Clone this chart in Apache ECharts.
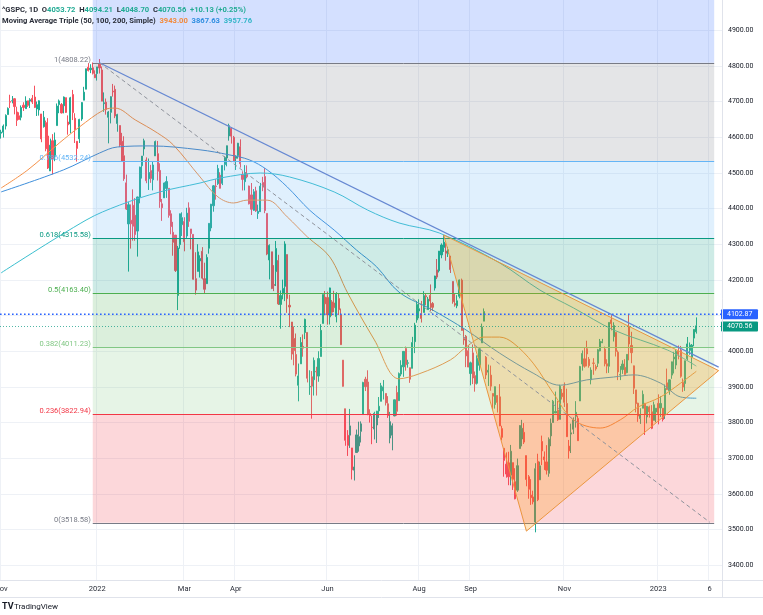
<!DOCTYPE html>
<html><head><meta charset="utf-8">
<script src="https://cdn.jsdelivr.net/npm/echarts@6/dist/echarts.min.js"></script>
<style>html,body{margin:0;padding:0;background:#fff}#c{width:763px;height:615px}</style>
</head><body><div id="c"></div>
<script>
// ---------------- DATA ----------------
const holidays = ['2021-11-25','2021-12-24','2022-01-17','2022-02-21','2022-04-15','2022-05-30','2022-06-20','2022-07-04','2022-09-05','2022-11-24','2022-12-26','2023-01-02','2023-01-16'];
const firstDay = '2021-11-01', lastDay = '2023-02-13'; // includes empty future slots after 2023-01-27

// [open, close, low, high]
const nov21 = [
[4610.6,4613.67,4595.5,4620.3],[4613.3,4630.65,4598.5,4635.2],[4630.7,4660.57,4621.0,4663.5],[4662.9,4680.06,4662.9,4683.0],
[4699.3,4697.53,4681.1,4718.5],[4701.5,4701.70,4694.4,4714.9],[4707.3,4685.25,4663.5,4708.5],[4670.3,4646.71,4630.9,4684.9],
[4659.4,4649.27,4648.3,4669.3],[4655.2,4682.85,4646.7,4688.5],[4689.3,4682.80,4672.9,4697.4],[4679.4,4700.90,4679.4,4714.1],
[4701.5,4688.67,4684.4,4701.5],[4700.7,4704.54,4681.2,4708.8],[4708.4,4697.96,4692.6,4717.8],[4712.0,4682.94,4681.1,4743.8],
[4678.5,4690.70,4658.9,4699.4],[4675.8,4701.46,4659.9,4702.9],[4664.6,4594.62,4585.4,4664.6],[4628.8,4655.27,4626.3,4672.9],
[4640.3,4567.00,4560.0,4646.0]];
const dec21 = [
[4602.8,4513.04,4510.3,4652.9],[4504.7,4577.10,4504.7,4595.5],[4589.5,4538.43,4495.1,4608.0],[4548.4,4591.67,4532.1,4612.6],
[4632.0,4686.75,4632.0,4694.0],[4690.9,4701.21,4666.7,4705.1],[4691.0,4667.45,4666.0,4695.3],[4687.6,4712.02,4666.2,4713.6],
[4710.3,4668.97,4667.6,4710.3],[4642.0,4634.09,4606.5,4660.5],[4636.5,4709.85,4611.0,4712.6],[4719.1,4668.67,4647.5,4732.0],
[4652.5,4620.64,4583.2,4666.7],[4587.9,4568.02,4531.1,4587.9],[4595.0,4649.23,4583.2,4651.1],[4650.4,4696.56,4645.4,4697.7],
[4703.1,4725.79,4703.1,4740.7],[4734.0,4791.19,4734.0,4791.5],[4795.5,4786.35,4783.7,4807.0],[4788.6,4793.06,4779.0,4804.1],
[4794.2,4778.73,4775.3,4808.9],[4775.2,4766.18,4765.3,4786.8]];
const jan22 = [
[4778.1,4796.56,4758.2,4796.6],[4804.5,4793.54,4778.0,4818.6],[4788.0,4700.58,4700.5,4797.7],[4693.4,4696.05,4670.7,4725.0],
[4697.7,4677.03,4662.7,4707.9],[4655.3,4670.29,4582.2,4673.0],[4669.1,4713.07,4638.1,4714.1],[4728.6,4726.35,4713.2,4748.8],
[4733.6,4659.03,4652.9,4744.1],[4638.0,4662.85,4614.8,4665.1],[4632.2,4577.11,4571.8,4632.2],[4588.0,4532.76,4531.1,4611.6],
[4547.4,4482.73,4477.0,4602.1],[4471.4,4397.94,4395.3,4494.5],[4356.3,4410.13,4222.6,4417.4],[4366.6,4356.45,4287.1,4411.0],
[4408.4,4349.93,4309.5,4453.2],[4380.6,4326.51,4309.0,4428.7],[4336.2,4431.85,4264.7,4432.7],[4431.8,4515.55,4414.0,4516.9]];
const feb22 = [
[4519.6,4546.54,4483.5,4546.5],[4566.4,4589.38,4547.6,4595.3],[4535.4,4477.44,4470.4,4542.9],[4482.8,4500.53,4451.5,4539.7],
[4505.8,4483.87,4471.5,4521.9],[4480.0,4521.54,4450.3,4531.3],[4547.0,4587.18,4547.0,4590.0],[4553.2,4504.08,4477.9,4588.9],
[4506.3,4418.64,4401.4,4526.3],[4412.6,4401.67,4364.8,4426.2],[4429.3,4471.07,4429.3,4472.8],[4455.8,4475.01,4429.3,4490.0],
[4456.1,4380.26,4373.8,4456.1],[4384.6,4348.87,4327.2,4394.6],[4332.7,4304.76,4267.1,4362.1],[4324.9,4225.50,4221.5,4324.9],
[4155.8,4288.70,4114.7,4294.7],[4298.4,4384.65,4286.8,4385.3],[4354.2,4373.94,4322.5,4388.8]];
const mar22 = [
[4363.1,4306.26,4279.5,4375.0],[4322.6,4386.54,4317.0,4401.5],[4401.3,4363.49,4347.9,4416.8],[4342.1,4328.87,4285.0,4342.1],
[4327.0,4201.09,4199.9,4327.0],[4202.7,4170.70,4157.9,4276.9],[4223.1,4277.88,4223.1,4299.4],[4252.6,4259.52,4206.0,4268.3],
[4279.5,4204.31,4200.6,4291.2],[4202.8,4173.11,4161.7,4247.6],[4188.8,4262.45,4187.9,4271.1],[4288.1,4357.86,4272.9,4358.0],
[4345.1,4411.67,4335.7,4412.5],[4407.3,4463.12,4390.6,4465.4],[4462.4,4461.18,4424.3,4481.8],[4469.1,4511.61,4465.6,4522.0],
[4493.1,4456.24,4455.8,4501.1],[4470.0,4520.16,4465.2,4520.6],[4522.7,4543.06,4506.3,4546.0],[4541.1,4575.52,4517.7,4575.7],
[4602.9,4631.60,4589.7,4637.3],[4624.2,4602.45,4581.5,4627.8],[4599.0,4530.41,4530.3,4603.1]];
const apr22 = [
[4540.3,4545.86,4507.6,4548.7],[4548.0,4582.64,4539.2,4583.5],[4572.5,4525.12,4514.2,4593.5],[4494.2,4481.15,4450.0,4503.9],
[4474.7,4500.21,4450.3,4521.2],[4494.2,4488.28,4484.2,4520.4],[4462.6,4412.53,4411.0,4463.6],[4437.6,4397.45,4381.3,4471.0],
[4394.3,4446.59,4392.7,4453.9],[4449.1,4392.59,4390.0,4460.5],[4385.6,4391.69,4370.3,4410.3],[4390.6,4462.21,4390.6,4471.3],
[4472.3,4459.45,4448.1,4488.3],[4489.2,4393.66,4386.4,4512.9],[4385.8,4271.78,4268.6,4385.8],[4255.3,4296.12,4200.8,4299.0],
[4278.1,4175.20,4173.4,4278.1],[4186.5,4183.96,4167.9,4240.7],[4222.6,4287.50,4182.1,4308.5],[4253.8,4131.93,4129.0,4269.7]];
const may22 = [
[4130.6,4155.38,4062.5,4169.8],[4159.8,4175.48,4144.9,4200.1],[4181.2,4300.17,4139.9,4307.7],[4270.4,4146.87,4107.0,4270.4],
[4128.2,4123.34,4067.0,4157.7],[4081.3,3991.24,3975.5,4081.3],[4035.2,4001.05,3959.9,4068.8],[3990.1,3935.18,3928.8,4049.1],
[3904.0,3930.08,3858.9,3964.8],[3963.9,4023.89,3963.9,4038.9],[4013.0,4008.01,3984.0,4046.5],[4052.0,4088.85,4033.4,4090.7],
[4052.0,3923.68,3911.9,4052.0],[3899.0,3900.79,3877.0,3946.0],[3927.8,3901.36,3810.3,3943.7],[3919.4,3973.75,3875.1,3981.9],
[3942.9,3941.48,3875.1,3955.7],[3929.6,3978.73,3913.7,3999.3],[3984.6,4057.84,3984.6,4075.1],[4077.4,4158.24,4077.4,4158.5],
[4151.1,4132.15,4100.0,4168.3]];
const jun22 = [
[4149.8,4101.23,4073.9,4166.5],[4095.4,4176.82,4074.3,4177.5],[4137.6,4108.54,4098.7,4142.7],[4134.7,4121.43,4109.0,4168.8],
[4096.5,4160.68,4080.2,4164.9],[4147.1,4115.77,4101.0,4160.1],[4101.7,4017.82,4017.4,4119.1],[3974.4,3900.86,3900.2,3974.4],
[3838.1,3749.63,3734.3,3838.1],[3763.5,3735.48,3705.7,3778.2],[3764.1,3789.99,3728.2,3837.6],[3728.2,3666.77,3639.8,3728.2],
[3665.9,3674.84,3636.9,3707.7],[3715.3,3764.79,3715.3,3779.7],[3733.9,3759.89,3717.7,3801.8],[3774.7,3795.73,3743.5,3802.6],
[3821.8,3911.74,3821.8,3913.7],[3920.8,3900.11,3887.7,3927.7],[3913.0,3821.55,3820.1,3945.9],[3825.1,3818.83,3799.2,3836.5],
[3786.0,3785.38,3738.7,3819.0]];
const jul22 = [
[3781.0,3825.33,3752.1,3829.8],[3792.6,3831.39,3742.1,3832.2],[3832.0,3845.08,3812.3,3870.9],[3858.9,3902.62,3858.9,3910.6],
[3888.3,3899.38,3864.1,3918.5],[3880.9,3854.43,3847.2,3880.9],[3852.0,3818.80,3812.4,3873.4],[3756.0,3801.78,3741.2,3829.4],
[3764.0,3790.38,3721.6,3797.0],[3818.0,3863.16,3817.2,3863.6],[3883.8,3830.85,3818.6,3902.4],[3860.7,3936.69,3860.7,3939.8],
[3935.3,3959.90,3929.2,3974.1],[3955.5,3998.95,3927.6,3999.3],[4007.0,3961.63,3944.8,4012.4],[3965.7,3966.84,3953.2,3975.3],
[3953.2,3921.05,3910.7,3953.2],[3951.4,4023.61,3951.4,4039.6],[4026.1,4072.43,3994.0,4079.0],[4087.3,4130.29,4079.2,4140.2]];
const aug22 = [
[4112.4,4118.63,4091.7,4145.0],[4104.2,4091.19,4079.8,4140.5],[4108.0,4155.17,4108.0,4167.7],[4154.9,4151.94,4128.4,4161.3],
[4115.9,4145.19,4115.9,4151.6],[4155.9,4140.06,4112.1,4186.6],[4133.1,4122.47,4112.1,4137.3],[4176.5,4210.24,4169.4,4211.0],
[4227.4,4207.27,4201.6,4257.9],[4225.0,4280.15,4220.2,4280.5],[4269.4,4297.14,4260.1,4301.8],[4290.5,4305.20,4277.9,4325.3],
[4280.4,4274.04,4253.1,4302.2],[4273.1,4283.74,4263.6,4292.1],[4266.3,4228.48,4218.7,4266.3],[4195.1,4137.99,4132.6,4195.1],
[4133.1,4128.73,4124.3,4159.8],[4126.6,4140.77,4120.0,4156.6],[4153.3,4199.12,4147.6,4200.5],[4198.7,4057.66,4057.7,4203.0],
[4034.6,4030.61,4017.4,4063.0],[4041.3,3986.16,3954.7,4045.0],[4000.7,3955.00,3954.5,4015.4]];
const sep22 = [
[3936.7,3966.85,3903.7,3970.2],[3994.7,3924.26,3907.1,4018.4],[3930.9,3908.19,3886.0,3942.6],[3909.4,3979.87,3906.0,3987.9],
[3959.9,4006.18,3944.8,4010.5],[4022.9,4067.36,4022.9,4076.8],[4083.7,4110.41,4083.7,4119.3],[3982.6,3932.69,3921.3,3985.9],
[3940.7,3946.01,3901.9,3961.9],[3932.4,3901.35,3888.6,3959.1],[3880.9,3873.33,3837.1,3880.9],[3849.9,3899.89,3838.5,3900.4],
[3875.2,3855.93,3827.5,3876.0],[3871.4,3789.93,3789.5,3907.1],[3782.4,3757.99,3749.5,3790.4],[3727.1,3693.23,3647.5,3727.1],
[3682.7,3655.04,3644.8,3715.7],[3686.4,3647.29,3623.7,3717.5],[3651.9,3719.04,3623.3,3736.7],[3687.0,3640.47,3610.4,3687.0],
[3633.5,3585.62,3584.1,3671.4]];
const oct22 = [
[3609.8,3678.43,3604.9,3698.4],[3726.5,3790.93,3726.5,3791.9],[3753.3,3783.28,3732.7,3806.9],[3772.0,3744.52,3739.2,3797.9],
[3706.7,3639.66,3620.7,3706.7],[3647.5,3612.39,3585.8,3652.2],[3595.9,3588.84,3568.5,3640.7],[3590.8,3577.03,3570.1,3608.3],
[3520.4,3669.91,3491.6,3685.4],[3690.4,3583.07,3579.1,3712.0],[3638.7,3677.95,3638.7,3689.7],[3746.3,3719.98,3680.2,3762.8],
[3703.1,3695.16,3666.6,3718.4],[3689.1,3665.78,3653.7,3736.0],[3657.1,3752.75,3647.4,3757.9],[3762.0,3797.34,3733.1,3810.7],
[3799.4,3859.11,3799.4,3862.8],[3826.0,3830.60,3826.0,3886.2],[3834.7,3807.30,3803.9,3860.0],[3808.3,3901.06,3808.3,3905.4],
[3881.9,3871.98,3863.9,3893.7]];
const nov22 = [
[3901.8,3856.10,3843.1,3911.8],[3852.9,3759.69,3759.0,3894.4],[3733.3,3719.89,3698.2,3750.6],[3767.0,3770.55,3713.9,3796.3],
[3780.7,3806.80,3767.4,3813.9],[3817.0,3828.11,3785.3,3859.4],[3810.9,3748.57,3748.3,3818.9],[3859.9,3956.37,3859.9,3958.3],
[3963.7,3992.93,3944.9,4001.5],[3978.0,3957.25,3953.2,4009.0],[4006.4,3991.73,3956.9,4028.8],[3976.8,3958.79,3953.2,3983.1],
[3919.3,3946.56,3906.5,3954.3],[3966.4,3965.34,3933.3,3979.9],[3956.2,3949.94,3944.9,3962.0],[3965.5,4003.58,3955.0,4005.9],
[4000.3,4027.26,3999.0,4033.8],[4023.3,4026.12,4022.1,4034.0],[4005.4,3963.94,3956.9,4012.3],[3964.2,3957.63,3937.7,3976.8],
[3957.2,4080.11,3938.6,4080.1]];
const dec22 = [
[4087.1,4076.57,4057.8,4100.5],[4040.2,4071.70,4026.6,4080.5],[4052.0,3998.84,3984.5,4052.5],[3996.6,3941.26,3918.4,4001.5],
[3933.3,3933.92,3918.4,3957.6],[3947.8,3963.51,3935.9,3974.2],[3954.2,3934.38,3933.5,3977.0],[3939.3,3990.56,3937.7,3990.7],
[4069.4,4019.65,3973.9,4101.0],[4015.5,3995.32,3965.7,4053.8],[3958.4,3895.75,3879.5,3959.0],[3890.9,3852.36,3827.9,3890.9],
[3853.8,3817.66,3801.4,3854.9],[3810.5,3821.62,3795.6,3839.5],[3839.5,3878.44,3839.5,3889.3],[3853.6,3822.39,3764.5,3853.6],
[3815.1,3844.82,3797.0,3845.8],[3843.3,3829.25,3813.2,3846.7],[3829.6,3783.22,3780.8,3848.3],[3805.5,3849.28,3805.5,3858.2],
[3829.1,3839.50,3800.3,3839.9]];
const jan23 = [
[3853.3,3824.14,3794.3,3878.5],[3840.4,3852.97,3815.3,3873.2],[3839.7,3808.10,3802.4,3839.7],[3823.4,3895.08,3809.6,3906.2],
[3910.8,3892.09,3890.4,3950.6],[3888.6,3919.25,3877.3,3919.8],[3932.4,3969.61,3922.0,3970.1],[3977.6,3983.17,3937.0,3997.8],
[3960.6,3999.09,3949.1,4004.0],[3999.3,3990.97,3976.6,4015.4],[4002.3,3928.86,3925.0,4014.2],[3911.8,3898.85,3885.5,3922.9],
[3909.0,3972.61,3888.2,3973.0],[3978.1,4019.81,3973.8,4039.3],[4001.7,4016.95,3989.5,4023.9],[3982.7,4016.22,3949.1,4019.6],
[4036.1,4060.43,4013.3,4061.6],[4053.72,4070.56,4048.70,4094.21]];

const ma50 = [['2021-11-01',4457],['2021-11-17',4508],['2021-12-08',4583],['2021-12-21',4628],['2022-01-06',4676],['2022-01-13',4681],
['2022-01-27',4648],['2022-02-10',4611],['2022-02-22',4578],['2022-03-10',4488],['2022-03-22',4432],['2022-03-31',4415],['2022-04-08',4423],
['2022-04-22',4423],['2022-05-05',4376],['2022-05-18',4320],['2022-06-02',4264],['2022-06-14',4163],['2022-07-01',4031],['2022-07-19',3922],
['2022-08-01',3936],['2022-08-19',3975],['2022-08-30',4011],['2022-09-12',4039],['2022-09-21',4039],['2022-09-29',4023],['2022-10-12',3966],
['2022-10-25',3882],['2022-11-07',3807],['2022-11-23',3784],['2022-12-07',3807],['2022-12-19',3843],['2023-01-04',3871],['2023-01-18',3910],
['2023-01-27',3943.00]];
const ma100 = [['2021-11-01',4446],['2021-12-10',4508],['2022-01-04',4555],['2022-01-14',4572],['2022-02-07',4575],['2022-03-10',4564],
['2022-03-29',4550],['2022-04-11',4536],['2022-04-22',4508],['2022-05-05',4460],['2022-05-19',4395],['2022-06-06',4339],['2022-06-21',4283],
['2022-07-05',4236],['2022-07-19',4165],['2022-08-09',4115],['2022-08-30',4059],['2022-09-21',3994],['2022-10-12',3938],['2022-10-28',3904],
['2022-11-15',3919],['2022-12-02',3927],['2022-12-15',3933],['2023-01-04',3910],['2023-01-18',3871],['2023-01-27',3867.63]];
const ma200 = [['2021-11-01',4219],['2021-12-27',4367],['2022-01-18',4409],['2022-02-11',4446],['2022-03-10',4471],['2022-03-23',4485],
['2022-04-19',4499],['2022-05-06',4488],['2022-06-06',4446],['2022-06-28',4395],['2022-07-19',4359],['2022-08-12',4331],['2022-09-21',4247],
['2022-10-17',4171],['2022-11-07',4121],['2022-12-02',4059],['2023-01-09',4003],['2023-01-27',3957.76]];

// Fibonacci retracement
const fibRatios = ['0','0.236','0.382','0.5','0.618','0.786','1'];
const fibValues = [3518.58,3822.94,4011.23,4163.40,4315.58,4532.24,4808.22];
const fibTopValue = 5605.22; // 1.618 extension (off-screen)
const fibStart = '2021-12-30', fibEnd = '2023-02-08';
// Drawings
const trendLine = [['2022-01-04',4808.22],['2023-02-10',3955]];
const dashedLine = [['2022-01-04',4808.22],['2023-02-06',3520]];
const triangle = [['2022-08-16',4325.3],['2022-10-07',3495],['2023-02-10',3945]];
const markedPrice = 4102.87;
const lastClose = 4070.56;
// Axes
const yTicks = [3400,3500,3600,3700,3800,3900,4000,4100,4200,4300,4400,4500,4600,4700,4800,4900];
const tickDates = ['2021-11-01','2022-01-03','2022-03-01','2022-04-01','2022-06-01','2022-08-01','2022-09-01','2022-11-01','2023-01-03','2023-02-06'];
const tickLabels = ['Nov','2022','Mar','Apr','Jun','Aug','Sep','Nov','2023','6'];
const viewMin = 3357.94, viewMax = 4984.11;

// ---------------- BUILD ----------------
function tradingDays(a,b,hol){const out=[];const d=new Date(a+'T00:00:00Z');const e=new Date(b+'T00:00:00Z');
  while(d<=e){const w=d.getUTCDay();const s=d.toISOString().slice(0,10);if(w!==0&&w!==6&&hol.indexOf(s)<0)out.push(s);d.setUTCDate(d.getUTCDate()+1);}return out;}
const dates = tradingDays(firstDay,lastDay,holidays);
const candles = [].concat(nov21,dec21,jan22,feb22,mar22,apr22,may22,jun22,jul22,aug22,sep22,oct22,nov22,dec22,jan23);

const FONT = 'Roboto, "Noto Sans", sans-serif';
const UP='#22ab94', DOWN='#f7525f';
const fibColors = ['#787b86','#f23645','#81c784','#4caf50','#089981','#64b5f6','#787b86'];
const fibTopColor = '#2962ff';
function rgba(hex,a){const n=parseInt(hex.slice(1),16);return `rgba(${n>>16&255},${n>>8&255},${n&255},${a})`;}
const di = d => dates.indexOf(d);

function renderGrid(params, api){
  const cs = params.coordSys; const ch=[];
  yTicks.forEach(v=>{
    const y = Math.round(api.coord([0,v])[1])+0.5;
    ch.push({type:'line',shape:{x1:cs.x,y1:y,x2:cs.x+cs.width,y2:y},style:{stroke:'#eef1f6',lineWidth:1}});
    ch.push({type:'text',style:{text:v.toFixed(2),x:cs.x+cs.width+6,y:y,fill:'#131722',font:'7px '+FONT,align:'left',verticalAlign:'middle'}});
  });
  return {type:'group',children:ch};
}

function renderDrawings(params, api){
  const cs = params.coordSys; const ch=[];
  const P = p => api.coord([di(p[0]), p[1]]);
  const xs = api.coord([di(fibStart),4000])[0], xe = api.coord([di(fibEnd),4000])[0];
  const lv = fibValues.concat([fibTopValue]);
  const cols = fibColors.concat([fibTopColor]);
  for(let i=1;i<lv.length;i++){
    const yTop = api.coord([0,lv[i]])[1], yBot = api.coord([0,lv[i-1]])[1];
    ch.push({type:'rect',shape:{x:xs,y:yTop,width:xe-xs,height:yBot-yTop},style:{fill:rgba(cols[i],0.2)}});
  }
  fibValues.forEach((v,i)=>{
    const y = Math.round(api.coord([0,v])[1])+0.5;
    ch.push({type:'line',shape:{x1:xs,y1:y,x2:xe,y2:y},style:{stroke:fibColors[i],lineWidth:1}});
    ch.push({type:'text',style:{text:fibRatios[i]+'('+v.toFixed(2)+')',x:xs-2,y:y+1,fill:fibColors[i],font:'7.5px '+FONT,align:'right',verticalAlign:'bottom'}});
  });
  // triangle
  ch.push({type:'polygon',shape:{points:triangle.map(P)},style:{fill:'rgba(255,152,0,0.24)',stroke:'#eb963f',lineWidth:1}});
  // trend line
  const t0=P(trendLine[0]), t1=P(trendLine[1]);
  ch.push({type:'line',shape:{x1:t0[0],y1:t0[1],x2:t1[0],y2:t1[1]},style:{stroke:'#6688d2',lineWidth:1.3}});
  const d0=P(dashedLine[0]), d1=P(dashedLine[1]);
  ch.push({type:'line',shape:{x1:d0[0],y1:d0[1],x2:d1[0],y2:d1[1]},style:{stroke:'#8f939c',lineWidth:1,lineDash:[4,3]}});
  // horizontal price lines
  const yp = api.coord([0,markedPrice])[1];
  ch.push({type:'line',shape:{x1:cs.x,y1:yp,x2:cs.x+cs.width,y2:yp},style:{stroke:'#2962ff',lineWidth:1.6,lineDash:[1.6,2.4]}});
  const yc = Math.round(api.coord([0,lastClose])[1])+0.5;
  ch.push({type:'line',shape:{x1:cs.x,y1:yc,x2:cs.x+cs.width,y2:yc},style:{stroke:'#089981',lineWidth:1,lineDash:[1,2],opacity:0.7}});
  // axis price boxes
  const bx = cs.x+cs.width-1;
  ch.push({type:'rect',shape:{x:bx,y:yp-5,width:37,height:10,r:1},style:{fill:'#2962ff'}});
  ch.push({type:'text',style:{text:markedPrice.toFixed(2),x:bx+6,y:yp,fill:'#ffffff',font:'7px '+FONT,align:'left',verticalAlign:'middle'}});
  ch.push({type:'rect',shape:{x:bx,y:yc-5,width:37,height:10,r:1},style:{fill:'#089981'}});
  ch.push({type:'text',style:{text:lastClose.toFixed(2),x:bx+6,y:yc,fill:'#ffffff',font:'7px '+FONT,align:'left',verticalAlign:'middle'}});
  return {type:'group',children:ch};
}

const chart = echarts.init(document.getElementById('c'), null, {renderer:'canvas',width:763,height:615});
const hdr = {fontFamily:FONT,fontSize:7.6};
chart.setOption({
  animation:false,
  backgroundColor:'#ffffff',
  textStyle:{fontFamily:FONT},
  title:[
    {left:2,top:6,padding:0,z:20,text:'{d|^GSPC, 1D  O}{g|4053.72}{d|  H}{g|4094.21}{d|  L}{g|4048.70}{d|  C}{g|4070.56}{g|  +10.13 (+0.25%)}',
     textStyle:{rich:{d:Object.assign({color:'#2a2e39'},hdr),g:Object.assign({color:'#22ab94'},hdr)}}},
    {left:2,top:17,padding:0,z:20,text:'{d|Moving Average Triple (50, 100, 200, Simple)}{o|  3943.00}{b|  3867.63}{t|  3957.76}',
     textStyle:{rich:{d:Object.assign({color:'#2a2e39'},hdr),o:Object.assign({color:'#f28a3c'},hdr),b:Object.assign({color:'#2f8ee0'},hdr),t:Object.assign({color:'#34b6c8'},hdr)}}}
  ],
  grid:{left:0,right:41,top:0,bottom:35,containLabel:false,outerBoundsMode:'none'},
  xAxis:{type:'category',data:dates,boundaryGap:true,
    axisLine:{show:false},axisTick:{show:false},
    axisLabel:{interval:(i,v)=>tickDates.indexOf(v)>=0,formatter:v=>tickLabels[tickDates.indexOf(v)],color:'#2a2e39',fontSize:7.5,fontFamily:FONT,margin:5},
    splitLine:{show:true,interval:(i,v)=>tickDates.indexOf(v)>=0,lineStyle:{color:'#eef1f6',width:1}}},
  yAxis:{type:'value',min:viewMin,max:viewMax,show:false,splitLine:{show:false}},
  series:[
    {type:'custom',name:'grid',z:1,clip:false,silent:true,data:[[0,4000]],encode:{x:0,y:1},renderItem:renderGrid},
    {type:'candlestick',name:'^GSPC',z:3,data:candles,barWidth:1.6,
      itemStyle:{color:UP,color0:DOWN,borderColor:UP,borderColor0:DOWN,borderWidth:1}},
    {type:'line',name:'MA50',z:4,data:ma50,showSymbol:false,smooth:0.35,lineStyle:{color:'#f5924a',width:1}},
    {type:'line',name:'MA100',z:4,data:ma100,showSymbol:false,smooth:0.35,lineStyle:{color:'#3f8fdb',width:1}},
    {type:'line',name:'MA200',z:4,data:ma200,showSymbol:false,smooth:0.35,lineStyle:{color:'#3bbfcf',width:1}},
    {type:'custom',name:'drawings',z:10,clip:false,silent:true,data:[[0,4000]],encode:{x:0,y:1},renderItem:renderDrawings}
  ],
  graphic:[
    {type:'line',z:50,shape:{x1:722.5,y1:0,x2:722.5,y2:597},style:{stroke:'#e0e3eb',lineWidth:1}},
    {type:'line',z:50,shape:{x1:0,y1:580.5,x2:763,y2:580.5},style:{stroke:'#e0e3eb',lineWidth:1}},
    {type:'line',z:50,shape:{x1:0,y1:597.5,x2:763,y2:597.5},style:{stroke:'#e0e3eb',lineWidth:1}},
    {type:'text',z:50,left:2,top:602,style:{text:'TV',fill:'#131722',font:'bold 9px '+FONT}},
    {type:'text',z:50,left:14,top:603,style:{text:'TradingView',fill:'#131722',font:'8px '+FONT}}
  ]
});
</script></body></html>
